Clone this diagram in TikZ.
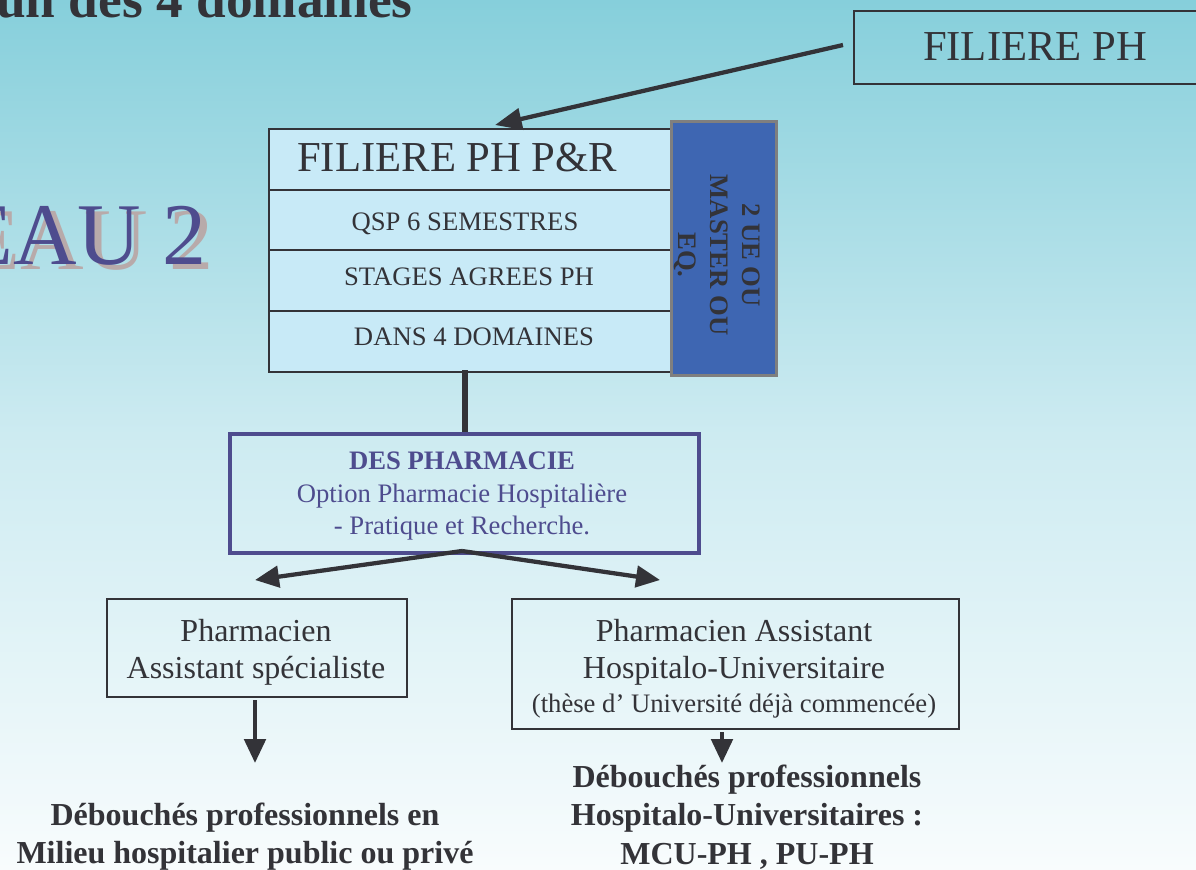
\documentclass[tikz,border=0pt]{standalone}
\usepackage{fontspec}
\setmainfont{Liberation Serif}
\usetikzlibrary{arrows.meta}
\definecolor{bgtop}{HTML}{86CFDB}
\definecolor{bgmid}{HTML}{CDEBF1}
\definecolor{bgbot}{HTML}{F8FCFD}
\definecolor{txt}{HTML}{333338}
\definecolor{purp}{HTML}{4E4C8E}
\definecolor{shadowc}{HTML}{B8AAAA}
\definecolor{rowfill}{HTML}{C8EAF7}
\definecolor{bluebox}{HTML}{3E66B2}
\definecolor{greyb}{HTML}{7F7F7F}
\tikzset{
  rowbox/.style={draw=txt, line width=1.6pt, fill=rowfill, minimum width=402*0.75pt, minimum height=61*0.75pt, inner sep=0pt},
  rowtext/.style={text=txt, inner sep=0pt, font=\fontsize{20}{24}\selectfont},
  plainbox/.style={draw=txt, line width=1.5pt, inner sep=0pt},
  bigarrow/.style={draw=txt, line width=3.2pt, -{Triangle[length=18pt,width=16pt]}},
  bottomtext/.style={text=txt, align=center, font=\bfseries\fontsize{24}{29}\selectfont}
}
\begin{document}
\begin{tikzpicture}[x=0.75pt,y=-0.75pt]
\useasboundingbox (0,0) rectangle (1196,869);
\clip (0,0) rectangle (1196,869);
\shade[top color=bgtop, bottom color=bgbot, middle color=bgmid] (0,0) rectangle (1196,869);

% title (cut off)
\node[anchor=base east, inner sep=0pt, text=txt, font=\bfseries\fontsize{40}{48}\selectfont] (title) at (413,17) {un des 4 domaines};

% EAU 2 with shadow
\node[anchor=base east, inner sep=0pt, text=shadowc, font=\fontsize{66}{80}\selectfont] (eaush) at (214,269) {EAU 2};
\node[anchor=base east, inner sep=0pt, text=purp, font=\fontsize{66}{80}\selectfont] (eau) at (207,264) {EAU 2};

% FILIERE PH
\node[draw=txt, line width=1.6pt, minimum width=363*0.75pt, minimum height=73*0.75pt, inner sep=0pt, anchor=north west] (fph) at (853,10) {};
\node[text=txt, font=\fontsize{32}{38}\selectfont, inner sep=0pt] (fphtxt) at (1035,47) {FILIERE PH};

% main stack
\node[rowbox, anchor=north west] (r1) at (268,128) {};
\node[rowbox, anchor=north west] (r2) at (268,189) {};
\node[rowbox, anchor=north west] (r3) at (268,249) {};
\node[rowbox, anchor=north west] (r4) at (268,310) {};
\node[text=txt, font=\fontsize{32}{38}\selectfont, anchor=west, inner sep=0pt] (r1t) at (297,158) {FILIERE PH P\&R};
\node[rowtext] (r2t) at (465,224) {QSP 6 SEMESTRES};
\node[rowtext] (r3t) at (469,277) {STAGES AGREES PH};
\node[rowtext] (r4t) at (474,337) {DANS 4 DOMAINES};

% blue vertical box
\node[draw=greyb, line width=2.2pt, fill=bluebox, minimum width=105*0.75pt, minimum height=254*0.75pt, inner sep=0pt, anchor=north west] (ue) at (670,120) {};
\node[rotate=-90, text=txt, align=center, font=\bfseries\fontsize{20}{24}\selectfont, inner sep=0pt] (uet) at (717,255) {2 UE OU\\MASTER OU\\EQ.};

% FILIERE PH -> stack
\coordinate (fphstart) at (843,45);
\coordinate (r1top) at (495,125);
\draw[draw=txt, line width=3.2pt, -{Triangle[length=20pt,width=16pt]}] (fphstart) -- (r1top);

% DES box
\node[draw=purp, line width=3pt, minimum width=469*0.75pt, minimum height=119*0.75pt, inner sep=0pt, anchor=north west] (des) at (228,432) {};
\node[text=purp, align=center, font=\fontsize{20}{24.5}\selectfont, inner sep=0pt] (dest) at (462,496) {\textbf{DES PHARMACIE}\\Option Pharmacie Hospitalière\\- Pratique et Recherche.};

% connector stack -> DES
\coordinate (stackbot) at (465,370);
\draw[draw=txt, line width=4.5pt] (stackbot) -- (465,432);

% Pharmacien boxes
\node[plainbox, minimum width=300*0.75pt, minimum height=98*0.75pt, anchor=north west] (pa) at (106,598) {};
\node[text=txt, align=center, font=\fontsize{24}{28}\selectfont, inner sep=0pt] (pat) at (256,652) {Pharmacien\\Assistant spécialiste};
\node[plainbox, minimum width=447*0.75pt, minimum height=130*0.75pt, anchor=north west] (phu) at (511,598) {};
\node[text=txt, align=center, font=\fontsize{24}{28}\selectfont, inner sep=0pt] (phut) at (734,652) {Pharmacien Assistant\\Hospitalo-Universitaire};
\node[text=txt, font=\fontsize{20}{24}\selectfont, inner sep=0pt] (phus) at (734,706) {(thèse d’ Université déjà commencée)};

% arrows from DES
\coordinate (desbot) at (462,551);
\coordinate (la) at (255,580);
\coordinate (ra) at (660,580);
\draw[bigarrow] (desbot) -- (la);
\draw[bigarrow] (desbot) -- (ra);

% down arrows
\coordinate (lb) at (255,763);
\coordinate (rb) at (722,763);
\draw[bigarrow] (255,700) -- (lb);
\draw[bigarrow] (722,732) -- (rb);

% bottom texts
\node[bottomtext, anchor=north] (lbt) at (245,798) {Débouchés professionnels en\\Milieu hospitalier public ou privé};
\node[bottomtext, anchor=north] (rbt) at (747,760) {Débouchés professionnels\\Hospitalo-Universitaires :\\MCU-PH , PU-PH};
\end{tikzpicture}
\end{document}
